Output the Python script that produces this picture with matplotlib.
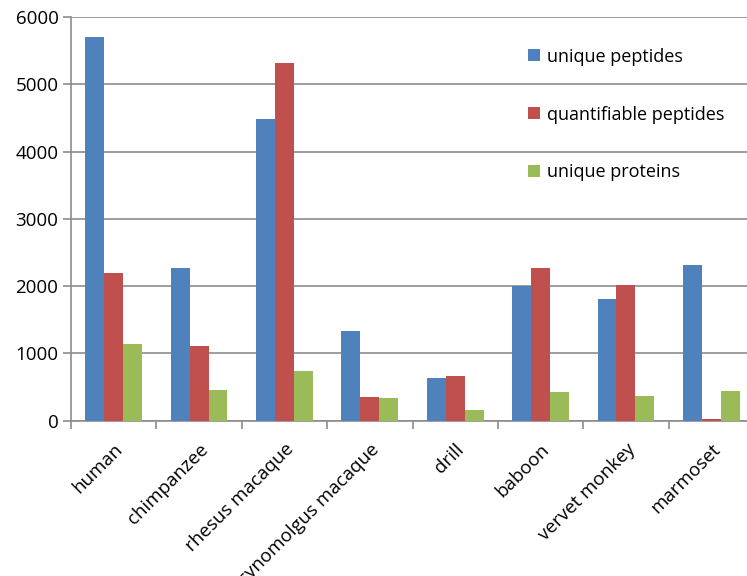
import numpy as np
import matplotlib.pyplot as plt

# peptide / protein counts per species
species = ['human', 'chimpanzee', 'rhesus macaque', 'cynomolgus macaque',
           'drill', 'baboon', 'vervet monkey', 'marmoset']
unique_peptides = [5705, 2272, 4490, 1335, 631, 2004, 1806, 2312]
quant_peptides = [2193, 1111, 5312, 357, 661, 2272, 2015, 20]
unique_proteins = [1137, 461, 735, 333, 159, 427, 367, 442]

series = [('unique peptides', unique_peptides, '#4f81bd'),
          ('quantifiable peptides', quant_peptides, '#c0504d'),
          ('unique proteins', unique_proteins, '#9bbb59')]

plt.rcParams['font.family'] = ['Open Sans', 'DejaVu Sans']

fig = plt.figure(figsize=(7.47, 5.76), dpi=100)
W, H = 747, 576
left, right, top, bottom = 71, 754, 17, 420.7
ax = fig.add_axes([left / W, 1 - bottom / H, (right - left) / W, (bottom - top) / H])

x = np.arange(len(species))
w = 0.222
for i, (name, vals, col) in enumerate(series):
    ax.bar(x + (i - 1) * w, vals, width=w, color=col, label=name, zorder=3)

ax.set_ylim(0, 6000)
ax.set_xlim(-0.5, len(species) - 0.5)
ax.set_yticks(np.arange(0, 6001, 1000))
ax.yaxis.grid(True, color='#8c8c8c', linewidth=1.2, zorder=0)

ax.set_xticks(x)
ax.set_xticklabels(species, rotation=45, ha='right', rotation_mode='anchor', fontsize=13.5)
ax.set_xticks(np.arange(-0.5, len(species), 1), minor=True)
ax.tick_params(axis='x', which='major', length=0, pad=14)
ax.tick_params(axis='x', which='minor', length=6, color='#8c8c8c', width=1.2, direction='out')
ax.tick_params(axis='y', length=6, color='#8c8c8c', width=1.2, labelsize=13.5, pad=3)

for s in ['top', 'right']:
    ax.spines[s].set_visible(False)
for s in ['left', 'bottom']:
    ax.spines[s].set_color('#8c8c8c')
    ax.spines[s].set_linewidth(1.2)

ax.legend(loc='upper left', bbox_to_anchor=(0.646, 0.964), frameon=False, fontsize=13,
          handlelength=0.65, handleheight=0.65, handletextpad=0.35, labelspacing=2.2)

fig.savefig('out.png', dpi=100)
